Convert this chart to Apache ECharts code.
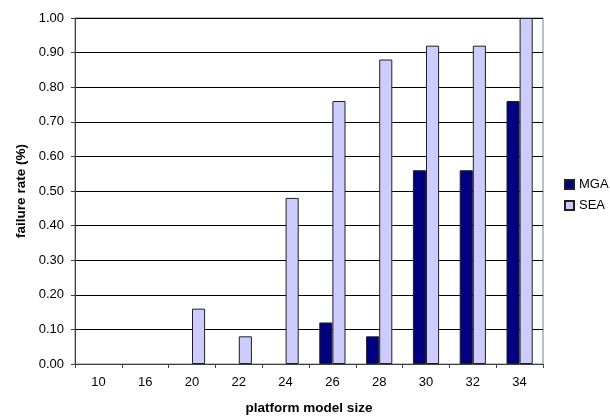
<!DOCTYPE html>
<html><head><meta charset="utf-8">
<script src="https://cdn.jsdelivr.net/npm/echarts@6/dist/echarts.min.js"></script>
<style>html,body{margin:0;padding:0;background:#fff}#c{width:610px;height:420px}</style>
</head><body><div id="c"></div>
<script>
const categories = ['10','16','20','22','24','26','28','30','32','34'];
const mga = [0, 0, 0, 0, 0, 0.12, 0.08, 0.56, 0.56, 0.76];
const sea = [0, 0, 0.16, 0.08, 0.48, 0.76, 0.88, 0.92, 0.92, 1.00];
const font = 'Liberation Sans, Arial, sans-serif';
// zero-height bars are invisible in the reference: drop their outline
const toData = arr => arr.map(v => v === 0 ? {value: v, itemStyle: {borderWidth: 0}} : v);
const chart = echarts.init(document.getElementById('c'));
chart.setOption({
  animation: false,
  textStyle: {fontFamily: font},
  grid: {left: 75, right: 67, top: 18, bottom: 54, show: true, borderColor: '#808080', borderWidth: 1},
  legend: {
    orient: 'vertical', left: 559, top: 173, itemWidth: 9, itemHeight: 9, itemGap: 8,
    icon: 'rect', textStyle: {fontSize: 13, color: '#000', fontFamily: font},
    data: ['MGA', 'SEA']
  },
  xAxis: {
    type: 'category', data: categories,
    name: 'platform model size', nameLocation: 'middle', nameGap: 37,
    nameTextStyle: {fontWeight: 'bold', fontSize: 13.5, color: '#000'},
    axisLine: {lineStyle: {color: '#404040', width: 1}},
    axisTick: {show: true, alignWithLabel: false, length: 4, lineStyle: {color: '#404040'}},
    axisLabel: {color: '#000', fontSize: 13, margin: 12}
  },
  yAxis: {
    type: 'value', min: 0, max: 1, interval: 0.1,
    name: 'failure rate (%)', nameLocation: 'middle', nameGap: 46,
    nameTextStyle: {fontWeight: 'bold', fontSize: 13.5, color: '#000'},
    axisLine: {show: true, lineStyle: {color: '#404040'}},
    axisTick: {show: true, length: 4, lineStyle: {color: '#404040'}},
    axisLabel: {color: '#000', fontSize: 13, formatter: v => v.toFixed(2), margin: 11},
    splitLine: {show: true, lineStyle: {color: '#000', width: 1}}
  },
  series: [
    {name: 'MGA', type: 'bar', data: toData(mga), barGap: '0%', barCategoryGap: '44%',
     itemStyle: {color: '#000080', borderColor: '#202020', borderWidth: 1}},
    {name: 'SEA', type: 'bar', data: toData(sea), barGap: '0%', barCategoryGap: '44%',
     itemStyle: {color: '#CCCCFF', borderColor: '#202020', borderWidth: 1}}
  ]
});
</script></body></html>
